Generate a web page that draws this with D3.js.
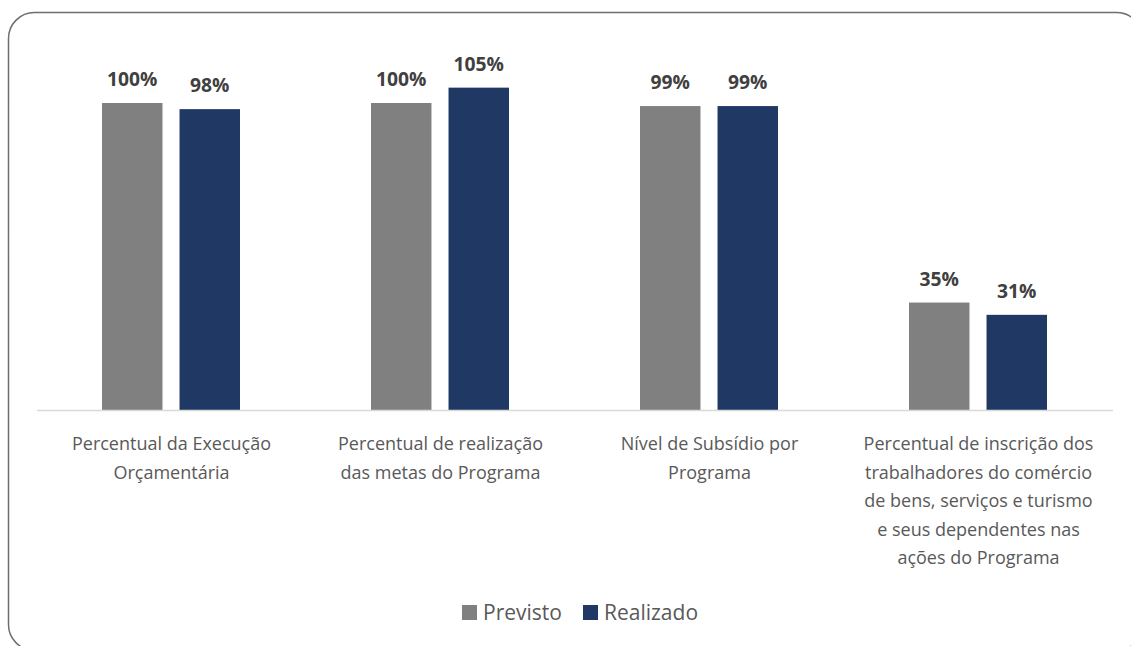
<!DOCTYPE html>
<html>
<head>
<meta charset="utf-8">
<script src="https://cdn.jsdelivr.net/npm/d3@7"></script>
<style>
  body { margin: 0; background: #fff; }
  svg { display: block; font-family: "Open Sans", sans-serif; }
</style>
</head>
<body>
<svg id="chart" width="1131" height="646"></svg>
<script>
var categories = [
  ['Percentual da Execução', 'Orçamentária'],
  ['Percentual de realização', 'das metas do Programa'],
  ['Nível de Subsídio por', 'Programa'],
  ['Percentual de inscrição dos', 'trabalhadores do comércio', 'de bens, serviços e turismo', 'e seus dependentes nas', 'ações do Programa']
];
var seriesNames = ['Previsto', 'Realizado'];
var previsto = [100, 100, 99, 35];
var realizado = [98, 105, 99, 31];
var colors = ['#808080', '#203864'];

var svg = d3.select('#chart');
var baseY = 410;

// rounded frame, runs off the right and bottom edge
svg.append('rect')
  .attr('x', 8.5).attr('y', 12.5)
  .attr('width', 1134).attr('height', 638)
  .attr('rx', 26).attr('ry', 26)
  .attr('fill', 'none')
  .attr('stroke', '#6e6e6e')
  .attr('stroke-width', 1.5);

var x0 = d3.scaleBand()
  .domain(d3.range(categories.length))
  .range([37, 1113]);

var x1 = d3.scaleBand()
  .domain(seriesNames)
  .range([65, 203])
  .paddingInner(0.22);

var y = d3.scaleLinear()
  .domain([0, 100])
  .range([baseY, 103]);

var rows = categories.map(function(c, i) {
  return { i: i, values: [previsto[i], realizado[i]] };
});

var groups = svg.selectAll('.group')
  .data(rows)
  .enter()
  .append('g')
  .attr('class', 'group')
  .attr('transform', (d) => 'translate(' + x0(d.i) + ',0)');

groups.selectAll('rect')
  .data((d) => d.values.map((v, k) => ({ k: k, v: v })))
  .enter()
  .append('rect')
  .attr('x', (d) => x1(seriesNames[d.k]))
  .attr('y', (d) => y(d.v))
  .attr('width', x1.bandwidth())
  .attr('height', (d) => baseY - y(d.v))
  .attr('fill', (d) => colors[d.k]);

groups.selectAll('.val')
  .data((d) => d.values.map((v, k) => ({ k: k, v: v })))
  .enter()
  .append('text')
  .attr('class', 'val')
  .attr('x', (d) => x1(seriesNames[d.k]) + x1.bandwidth() / 2)
  .attr('y', (d) => y(d.v) - 17)
  .attr('text-anchor', 'middle')
  .style('font-size', '19.3px')
  .style('font-weight', 'bold')
  .style('fill', '#404040')
  .text((d) => d.v + '%');

// baseline
svg.append('line')
  .attr('x1', 37).attr('x2', 1113)
  .attr('y1', baseY + 0.5).attr('y2', baseY + 0.5)
  .attr('stroke', '#d9d9d9')
  .attr('stroke-width', 1.5);

// category labels
groups.append('text')
  .attr('text-anchor', 'middle')
  .style('font-size', '18px')
  .style('fill', '#595959')
  .selectAll('tspan')
  .data((d) => categories[d.i])
  .enter()
  .append('tspan')
  .attr('x', x0.bandwidth() / 2)
  .attr('y', (d, i) => 450 + i * 28.5)
  .text((d) => d);

// legend
var legend = svg.append('g').attr('transform', 'translate(462,605)');
var legendX = [0, 121];
seriesNames.forEach(function(name, k) {
  var g = legend.append('g').attr('transform', 'translate(' + legendX[k] + ',0)');
  g.append('rect')
    .attr('width', 15).attr('height', 15)
    .attr('fill', colors[k]);
  g.append('text')
    .attr('x', 21).attr('y', 15)
    .style('font-size', '21px')
    .style('fill', '#595959')
    .text(name);
});
</script>
</body>
</html>
